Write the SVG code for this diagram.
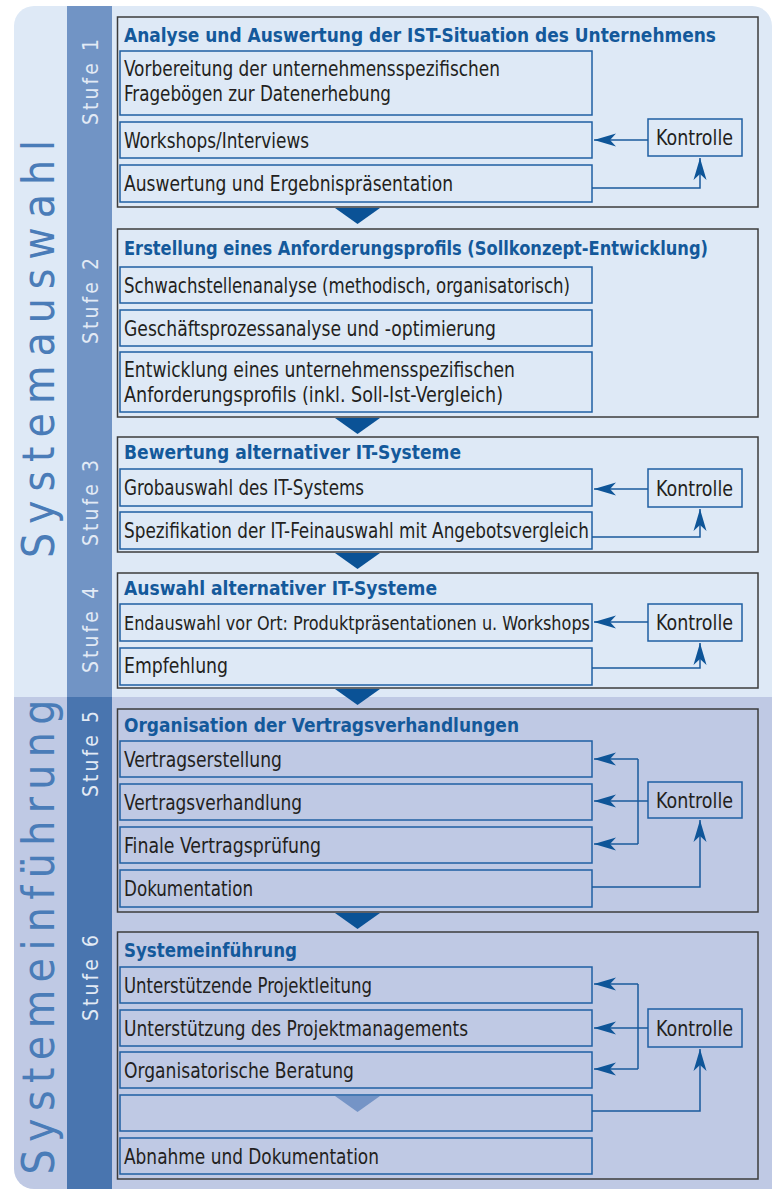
<svg xmlns="http://www.w3.org/2000/svg" width="772" height="1189" viewBox="0 0 772 1189">
<defs>
<style>
.stage{fill:none;stroke:#3c3c3c;stroke-width:1.5}
.item{fill:none;stroke:#1f5fa3;stroke-width:1.5}
.t{font-family:"Liberation Sans Narrow","DejaVu Sans Condensed","Liberation Sans",sans-serif;font-size:21px;fill:#231f20}
.h{font-family:"Liberation Sans Narrow","DejaVu Sans Condensed","Liberation Sans",sans-serif;font-size:19.5px;font-weight:bold;fill:#14599b}
.stufe{font-family:"Liberation Sans Narrow","DejaVu Sans Condensed","Liberation Sans",sans-serif;font-size:21px;fill:#e2eaf5}
.side{font-family:"Liberation Sans Narrow","DejaVu Sans Condensed","Liberation Sans",sans-serif;font-size:44px;fill:#4a7cb8}
.conn{fill:none;stroke:#1a5a9c;stroke-width:1.5}
.tri{fill:#0a5296}
</style>
<marker id="ah" viewBox="-23 -7 24 14" refX="0" refY="0" markerWidth="24" markerHeight="14" markerUnits="userSpaceOnUse" orient="auto">
<path d="M0,0 L-22,-6.5 L-16,0 L-22,6.5 Z" fill="#0e5598"/>
</marker>
</defs>

<g id="background">
<path d="M14,697 V26 A20,20 0 0 1 34,6 H752 A20,20 0 0 1 772,26 V697 Z" fill="#dee9f6"/>
<path d="M14,697 H772 V1189 H34 A20,20 0 0 1 14,1169 Z" fill="#bfc9e4"/>
<rect x="67" y="6" width="45" height="691" fill="#7194c5"/>
<rect x="67" y="697" width="45" height="492" fill="#4975af"/>
</g>

<g id="side-labels">
<text class="side" transform="translate(54,349) rotate(-90)" text-anchor="middle" textLength="418" lengthAdjust="spacing">Systemauswahl</text>
<text class="side" transform="translate(54,937) rotate(-90)" text-anchor="middle" textLength="475" lengthAdjust="spacing">Systemeinführung</text>
</g>

<g id="stufe-labels">
<text class="stufe" transform="translate(98,82) rotate(-90)" text-anchor="middle" textLength="86" lengthAdjust="spacing">Stufe 1</text>
<text class="stufe" transform="translate(98,301) rotate(-90)" text-anchor="middle" textLength="86" lengthAdjust="spacing">Stufe 2</text>
<text class="stufe" transform="translate(98,503) rotate(-90)" text-anchor="middle" textLength="86" lengthAdjust="spacing">Stufe 3</text>
<text class="stufe" transform="translate(98,630) rotate(-90)" text-anchor="middle" textLength="86" lengthAdjust="spacing">Stufe 4</text>
<text class="stufe" transform="translate(98,754) rotate(-90)" text-anchor="middle" textLength="86" lengthAdjust="spacing">Stufe 5</text>
<text class="stufe" transform="translate(98,978) rotate(-90)" text-anchor="middle" textLength="86" lengthAdjust="spacing">Stufe 6</text>
</g>

<!-- Stage 1 -->
<g id="stage1">
<rect class="stage" x="117.5" y="17" width="640.5" height="190"/>
<text class="h" x="124" y="42" textLength="592" lengthAdjust="spacingAndGlyphs">Analyse und Auswertung der IST-Situation des Unternehmens</text>
</g>
<g id="s1-item1">
<rect class="item" x="120" y="51" width="472" height="64"/>
<text class="t" x="124" y="76" textLength="376" lengthAdjust="spacingAndGlyphs">Vorbereitung der unternehmensspezifischen</text>
<text class="t" x="124" y="101" textLength="267" lengthAdjust="spacingAndGlyphs">Fragebögen zur Datenerhebung</text>
</g>
<g id="s1-item2">
<rect class="item" x="120" y="122" width="472" height="36"/>
<text class="t" x="124" y="148" textLength="185" lengthAdjust="spacingAndGlyphs">Workshops/Interviews</text>
</g>
<g id="s1-item3">
<rect class="item" x="120" y="165" width="472" height="37"/>
<text class="t" x="124" y="191" textLength="329" lengthAdjust="spacingAndGlyphs">Auswertung und Ergebnispräsentation</text>
</g>
<g id="s1-kontrolle">
<rect class="item" x="648" y="119" width="94" height="37"/>
<text class="t" x="656" y="145" textLength="77" lengthAdjust="spacingAndGlyphs">Kontrolle</text>
</g>

<!-- Stage 2 -->
<g id="stage2">
<rect class="stage" x="117.5" y="229" width="640.5" height="188"/>
<text class="h" x="124" y="255" textLength="584" lengthAdjust="spacingAndGlyphs">Erstellung eines Anforderungsprofils (Sollkonzept-Entwicklung)</text>
</g>
<g id="s2-item1">
<rect class="item" x="120" y="267" width="472" height="36"/>
<text class="t" x="124" y="293" textLength="446" lengthAdjust="spacingAndGlyphs">Schwachstellenanalyse (methodisch, organisatorisch)</text>
</g>
<g id="s2-item2">
<rect class="item" x="120" y="310" width="472" height="36"/>
<text class="t" x="124" y="336" textLength="372" lengthAdjust="spacingAndGlyphs">Geschäftsprozessanalyse und -optimierung</text>
</g>
<g id="s2-item3">
<rect class="item" x="120" y="352" width="472" height="60"/>
<text class="t" x="124" y="377" textLength="391" lengthAdjust="spacingAndGlyphs">Entwicklung eines unternehmensspezifischen</text>
<text class="t" x="124" y="402" textLength="379" lengthAdjust="spacingAndGlyphs">Anforderungsprofils (inkl. Soll-Ist-Vergleich)</text>
</g>

<!-- Stage 3 -->
<g id="stage3">
<rect class="stage" x="117.5" y="437" width="640.5" height="115"/>
<text class="h" x="124" y="459" textLength="337" lengthAdjust="spacingAndGlyphs">Bewertung alternativer IT-Systeme</text>
</g>
<g id="s3-item1">
<rect class="item" x="120" y="469" width="472" height="37"/>
<text class="t" x="124" y="495" textLength="240" lengthAdjust="spacingAndGlyphs">Grobauswahl des IT-Systems</text>
</g>
<g id="s3-item2">
<rect class="item" x="120" y="512" width="472" height="37"/>
<text class="t" x="124" y="538" textLength="465" lengthAdjust="spacingAndGlyphs">Spezifikation der IT-Feinauswahl mit Angebotsvergleich</text>
</g>
<g id="s3-kontrolle">
<rect class="item" x="648" y="469" width="94" height="38"/>
<text class="t" x="656" y="495.5" textLength="77" lengthAdjust="spacingAndGlyphs">Kontrolle</text>
</g>

<!-- Stage 4 -->
<g id="stage4">
<rect class="stage" x="117.5" y="573" width="640.5" height="115"/>
<text class="h" x="124" y="595" textLength="313" lengthAdjust="spacingAndGlyphs">Auswahl alternativer IT-Systeme</text>
</g>
<g id="s4-item1">
<rect class="item" x="120" y="604" width="472" height="37"/>
<text class="t" x="124" y="630" style="font-size:19.5px" textLength="466" lengthAdjust="spacingAndGlyphs">Endauswahl vor Ort: Produktpräsentationen u. Workshops</text>
</g>
<g id="s4-item2">
<rect class="item" x="120" y="648" width="472" height="37"/>
<text class="t" x="124" y="673" textLength="104" lengthAdjust="spacingAndGlyphs">Empfehlung</text>
</g>
<g id="s4-kontrolle">
<rect class="item" x="648" y="604" width="94" height="37"/>
<text class="t" x="656" y="630" textLength="77" lengthAdjust="spacingAndGlyphs">Kontrolle</text>
</g>

<!-- Stage 5 -->
<g id="stage5">
<rect class="stage" x="117.5" y="709" width="640.5" height="203"/>
<text class="h" x="124" y="732" textLength="395" lengthAdjust="spacingAndGlyphs">Organisation der Vertragsverhandlungen</text>
</g>
<g id="s5-item1">
<rect class="item" x="120" y="741" width="472" height="36"/>
<text class="t" x="124" y="767" textLength="158" lengthAdjust="spacingAndGlyphs">Vertragserstellung</text>
</g>
<g id="s5-item2">
<rect class="item" x="120" y="784" width="472" height="36"/>
<text class="t" x="124" y="810" textLength="178" lengthAdjust="spacingAndGlyphs">Vertragsverhandlung</text>
</g>
<g id="s5-item3">
<rect class="item" x="120" y="827" width="472" height="36"/>
<text class="t" x="124" y="853" textLength="197" lengthAdjust="spacingAndGlyphs">Finale Vertragsprüfung</text>
</g>
<g id="s5-item4">
<rect class="item" x="120" y="870" width="472" height="37"/>
<text class="t" x="124" y="896" textLength="129" lengthAdjust="spacingAndGlyphs">Dokumentation</text>
</g>
<g id="s5-kontrolle">
<rect class="item" x="648" y="782" width="94" height="36"/>
<text class="t" x="656" y="807.5" textLength="77" lengthAdjust="spacingAndGlyphs">Kontrolle</text>
</g>

<!-- Stage 6 -->
<g id="stage6">
<rect class="stage" x="117.5" y="932" width="640.5" height="247"/>
<text class="h" x="124" y="957" textLength="173" lengthAdjust="spacingAndGlyphs">Systemeinführung</text>
</g>
<g id="s6-item1">
<rect class="item" x="120" y="967" width="472" height="36"/>
<text class="t" x="124" y="993" textLength="248" lengthAdjust="spacingAndGlyphs">Unterstützende Projektleitung</text>
</g>
<g id="s6-item2">
<rect class="item" x="120" y="1010" width="472" height="36"/>
<text class="t" x="124" y="1036" textLength="344" lengthAdjust="spacingAndGlyphs">Unterstützung des Projektmanagements</text>
</g>
<g id="s6-item3">
<rect class="item" x="120" y="1052" width="472" height="36"/>
<text class="t" x="124" y="1078" textLength="230" lengthAdjust="spacingAndGlyphs">Organisatorische Beratung</text>
</g>
<g id="s6-item4">
<rect class="item" x="120" y="1095" width="472" height="36"/>
<polygon points="335,1096 380,1096 357.5,1112" fill="#7594c6"/>
</g>
<g id="s6-item5">
<rect class="item" x="120" y="1138" width="472" height="36"/>
<text class="t" x="124" y="1164" textLength="255" lengthAdjust="spacingAndGlyphs">Abnahme und Dokumentation</text>
</g>
<g id="s6-kontrolle">
<rect class="item" x="648" y="1009" width="94" height="38"/>
<text class="t" x="656" y="1035.5" textLength="77" lengthAdjust="spacingAndGlyphs">Kontrolle</text>
</g>

<g id="connectors">
<polygon class="tri" points="335,208 380,208 357.5,224"/>
<polygon class="tri" points="335,418 380,418 357.5,434"/>
<polygon class="tri" points="335,553 380,553 357.5,569"/>
<polygon class="tri" points="335,689 380,689 357.5,705"/>
<polygon class="tri" points="335,913 380,913 357.5,929"/>

<path class="conn" d="M648,140 H594" marker-end="url(#ah)"/>
<path class="conn" d="M592,188 H700 V158" marker-end="url(#ah)"/>

<path class="conn" d="M648,489 H594" marker-end="url(#ah)"/>
<path class="conn" d="M592,537 H700 V509" marker-end="url(#ah)"/>

<path class="conn" d="M648,622 H594" marker-end="url(#ah)"/>
<path class="conn" d="M592,668 H700 V643" marker-end="url(#ah)"/>

<path class="conn" d="M638,759 V844"/>
<path class="conn" d="M648,801 H594" marker-end="url(#ah)"/>
<path class="conn" d="M638,759 H594" marker-end="url(#ah)"/>
<path class="conn" d="M638,844 H594" marker-end="url(#ah)"/>
<path class="conn" d="M592,887 H700 V820" marker-end="url(#ah)"/>

<path class="conn" d="M638,984 V1069"/>
<path class="conn" d="M648,1028 H594" marker-end="url(#ah)"/>
<path class="conn" d="M638,984 H594" marker-end="url(#ah)"/>
<path class="conn" d="M638,1069 H594" marker-end="url(#ah)"/>
<path class="conn" d="M592,1111 H700 V1049" marker-end="url(#ah)"/>
</g>
</svg>
